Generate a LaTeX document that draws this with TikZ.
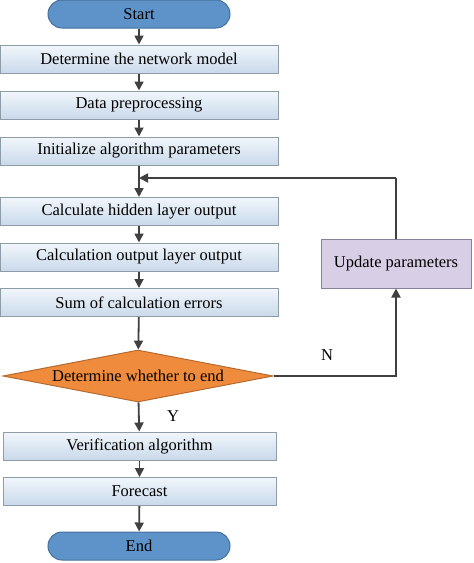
\documentclass[tikz,border=0pt]{standalone}
\usepackage{fontspec}
\setmainfont{Liberation Serif}
\usetikzlibrary{shapes.geometric,arrows.meta}

\definecolor{boxtop}{HTML}{F1F6FB}
\definecolor{boxbot}{HTML}{C9D9EA}
\definecolor{boxline}{HTML}{8E9CA8}
\definecolor{termfill}{HTML}{5E93CA}
\definecolor{termline}{HTML}{44719C}
\definecolor{decfill}{HTML}{EF8B3D}
\definecolor{decline}{HTML}{B86A2E}
\definecolor{updfill}{HTML}{D8CEE5}
\definecolor{updline}{HTML}{8C7C9E}
\definecolor{arrowcol}{HTML}{404040}

\tikzset{
	stepbox/.style={draw=boxline,line width=1pt,top color=boxtop,bottom color=boxbot,minimum width=278pt,minimum height=28pt,inner sep=0pt},
	terminal/.style={draw=termline,line width=1pt,fill=termfill,rounded corners=14pt,minimum width=182pt,minimum height=28pt,inner sep=0pt},
	decision/.style={diamond,draw=decline,line width=1pt,fill=decfill,aspect=5.2,minimum width=270pt,minimum height=52pt,inner sep=0pt},
	updbox/.style={draw=updline,line width=1pt,fill=updfill,minimum width=150pt,minimum height=49pt,inner sep=0pt},
	flow/.style={draw=arrowcol,line width=1.8pt,-{Triangle[length=9pt,width=9pt]}},
	link/.style={draw=arrowcol,line width=1.8pt}
}

\begin{document}
\begin{tikzpicture}[x=1pt,y=-1pt,font=\fontsize{16.5}{19}\selectfont]
				\useasboundingbox (0,0) rectangle (474,563);
				\node[terminal] (start) at (139,14) {Start};
				\node[stepbox] (model) at (139,59) {Determine the network model};
				\node[stepbox] (prep) at (139,105) {Data preprocessing};
				\node[stepbox] (init) at (139,151) {Initialize algorithm parameters};
				\node[stepbox] (hidden) at (139,211.5) {Calculate hidden layer output};
				\node[stepbox] (outlayer) at (139,257) {Calculation output layer output};
				\node[stepbox] (errors) at (139,302.5) {Sum of calculation errors};
				\node[decision] (decide) at (138,376) {Determine whether to end};
				\node[stepbox,minimum width=273pt] (verify) at (139.5,446) {Verification algorithm};
				\node[stepbox,minimum width=273pt] (forecast) at (139.5,491.5) {Forecast};
				\node[terminal] (end) at (139,546) {End};
				\node[updbox] (update) at (396,263.5) {Update parameters};
				\coordinate (join) at (139,178);
				\coordinate (turn) at (396,178);
				\coordinate (right) at (396,376);
				\node (nlabel) at (327,355) {N};
				\node (ylabel) at (173,416) {Y};

				\draw[flow] (start) -- (model);
				\draw[flow] (model) -- (prep);
				\draw[flow] (prep) -- (init);
				\draw[flow] (init) -- (hidden);
				\draw[flow] (hidden) -- (outlayer);
				\draw[flow] (outlayer) -- (errors);
				\draw[flow] (errors) -- (decide);
				\draw[flow] (decide) -- (verify);
				\draw[flow] (verify) -- (forecast);
				\draw[flow] (forecast) -- (end);
				\draw[flow] (decide.east) -- (right) -- (update.south);
				\draw[link] (update.north) -- (turn);
				\draw[flow] (turn) -- (join);
			\end{tikzpicture}
\end{document}
